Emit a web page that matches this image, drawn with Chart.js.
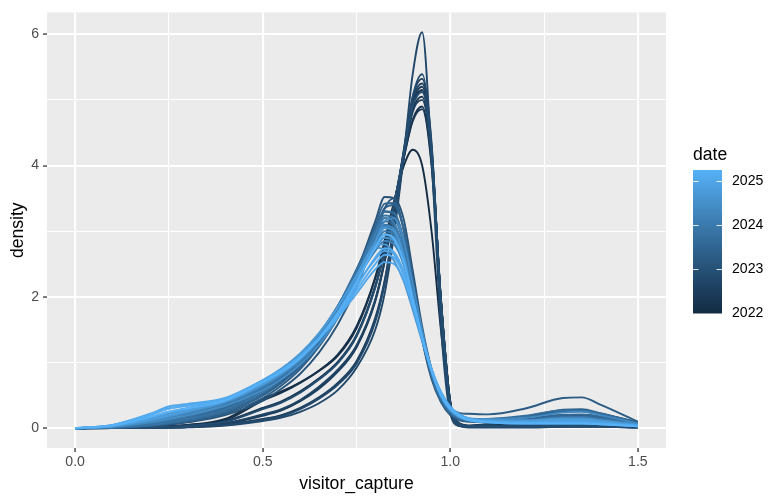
<!DOCTYPE html>
<html><head><meta charset="utf-8">
<script src="https://cdn.jsdelivr.net/npm/chart.js@4.4.0/dist/chart.umd.min.js"></script>
<style>html,body{margin:0;padding:0;background:#fff;}#wrap{width:782px;height:503px;position:relative;}</style>
</head><body><div id="wrap"><canvas id="c" width="782" height="503"></canvas></div>
<script>
// x positions (visitor_capture) at which each density curve was read
const xGrid = [0, 0.1, 0.2, 0.25, 0.3, 0.4, 0.5, 0.55, 0.6, 0.65, 0.7, 0.75, 0.8, 0.825, 0.85, 0.875, 0.9, 0.925, 0.95, 0.975, 1.0, 1.025, 1.05, 1.1, 1.2, 1.3, 1.35, 1.4, 1.5];

const dates2022 = [2022.000, 2022.083, 2022.167, 2022.250, 2022.333, 2022.417, 2022.500, 2022.583, 2022.667, 2022.750, 2022.833, 2022.917];
const density2022 = [
  [0, 0.004, 0.02, 0.035, 0.05, 0.14, 0.45, 0.56, 0.7, 0.88, 1.12, 1.55, 2.3, 2.85, 3.45, 3.98, 4.24, 4.0, 3.0, 1.5, 0.35, 0.07, 0.04, 0.06, 0.1, 0.14, 0.15, 0.13, 0.06],
  [0, 0.003, 0.012, 0.022, 0.035, 0.1, 0.3, 0.4, 0.55, 0.75, 1.0, 1.4, 2.15, 2.7, 3.4, 4.15, 4.85, 5.05, 4.15, 1.95, 0.38, 0.06, 0.03, 0.03, 0.04, 0.05, 0.05, 0.04, 0.02],
  [0, 0.004, 0.018, 0.032, 0.05, 0.12, 0.42, 0.54, 0.69, 0.87, 1.1, 1.52, 2.28, 2.82, 3.42, 4.08, 4.7, 4.9, 4.05, 1.95, 0.4, 0.07, 0.03, 0.03, 0.04, 0.05, 0.05, 0.05, 0.02],
  [0, 0.002, 0.008, 0.015, 0.025, 0.07, 0.2, 0.28, 0.42, 0.62, 0.88, 1.25, 1.95, 2.55, 3.3, 4.15, 4.92, 5.15, 4.2, 1.92, 0.35, 0.06, 0.03, 0.04, 0.06, 0.09, 0.1, 0.09, 0.04],
  [0, 0.003, 0.013, 0.024, 0.04, 0.11, 0.31, 0.41, 0.56, 0.76, 1.01, 1.42, 2.17, 2.72, 3.4, 4.1, 4.68, 4.86, 4.0, 1.95, 0.4, 0.07, 0.03, 0.03, 0.03, 0.04, 0.04, 0.04, 0.02],
  [0, 0.001, 0.005, 0.01, 0.017, 0.05, 0.13, 0.19, 0.3, 0.46, 0.67, 1.0, 1.65, 2.22, 3.08, 4.1, 4.95, 5.2, 4.25, 1.95, 0.36, 0.06, 0.03, 0.05, 0.08, 0.12, 0.13, 0.11, 0.05],
  [0, 0.002, 0.008, 0.014, 0.024, 0.07, 0.19, 0.27, 0.41, 0.6, 0.86, 1.23, 1.93, 2.53, 3.3, 4.2, 5.05, 5.32, 4.3, 1.9, 0.33, 0.05, 0.02, 0.02, 0.02, 0.03, 0.03, 0.03, 0.01],
  [0, 0.001, 0.006, 0.011, 0.019, 0.055, 0.14, 0.2, 0.31, 0.47, 0.69, 1.02, 1.68, 2.25, 3.1, 4.08, 4.82, 5.0, 4.12, 1.98, 0.4, 0.07, 0.04, 0.04, 0.05, 0.07, 0.07, 0.06, 0.03],
  [0, 0.002, 0.009, 0.016, 0.027, 0.075, 0.21, 0.29, 0.43, 0.63, 0.89, 1.26, 1.96, 2.56, 3.32, 4.18, 5.0, 5.25, 4.25, 1.9, 0.34, 0.05, 0.03, 0.06, 0.12, 0.18, 0.2, 0.17, 0.08],
  [0, 0.001, 0.004, 0.008, 0.013, 0.04, 0.11, 0.16, 0.25, 0.38, 0.58, 0.92, 1.5, 2.05, 2.95, 4.1, 5.4, 6.03, 4.1, 1.55, 0.22, 0.03, 0.01, 0.01, 0.01, 0.02, 0.02, 0.02, 0.01],
  [0, 0.001, 0.005, 0.01, 0.016, 0.048, 0.125, 0.18, 0.29, 0.45, 0.66, 0.98, 1.62, 2.2, 3.06, 4.12, 5.05, 5.39, 4.35, 1.85, 0.3, 0.04, 0.02, 0.02, 0.02, 0.02, 0.02, 0.02, 0.01],
  [0, 0.003, 0.012, 0.023, 0.037, 0.1, 0.29, 0.39, 0.54, 0.74, 0.99, 1.4, 2.14, 2.7, 3.4, 4.16, 4.9, 5.12, 4.2, 1.95, 0.36, 0.06, 0.03, 0.03, 0.03, 0.04, 0.04, 0.04, 0.02]
];

const dates2023 = [2023.000, 2023.083, 2023.167, 2023.250, 2023.333, 2023.417, 2023.500, 2023.583, 2023.667, 2023.750, 2023.833, 2023.917];
const density2023 = [
  [0, 0.008, 0.04, 0.07, 0.11, 0.24, 0.5, 0.7, 0.95, 1.3, 1.75, 2.38, 3.15, 3.52, 3.5, 3.05, 2.2, 1.35, 0.75, 0.4, 0.2, 0.12, 0.1, 0.1, 0.12, 0.18, 0.18, 0.15, 0.06],
  [0, 0.006, 0.03, 0.055, 0.09, 0.2, 0.42, 0.6, 0.83, 1.15, 1.58, 2.15, 2.9, 3.35, 3.5, 3.2, 2.4, 1.55, 0.9, 0.48, 0.26, 0.16, 0.13, 0.13, 0.17, 0.26, 0.27, 0.22, 0.09],
  [0, 0.01, 0.05, 0.09, 0.14, 0.3, 0.58, 0.78, 1.03, 1.37, 1.82, 2.4, 3.05, 3.3, 3.25, 2.85, 2.1, 1.38, 0.8, 0.43, 0.23, 0.15, 0.12, 0.11, 0.14, 0.2, 0.2, 0.17, 0.07],
  [0, 0.01, 0.05, 0.08, 0.13, 0.28, 0.52, 0.72, 0.96, 1.28, 1.7, 2.25, 2.85, 3.08, 3.05, 2.7, 2.05, 1.4, 0.85, 0.5, 0.3, 0.23, 0.22, 0.21, 0.3, 0.46, 0.47, 0.36, 0.1],
  [0, 0.007, 0.035, 0.065, 0.1, 0.22, 0.46, 0.65, 0.9, 1.24, 1.68, 2.28, 3.0, 3.35, 3.4, 3.05, 2.3, 1.45, 0.82, 0.44, 0.23, 0.14, 0.11, 0.1, 0.13, 0.19, 0.2, 0.17, 0.07],
  [0, 0.012, 0.06, 0.1, 0.15, 0.31, 0.6, 0.8, 1.05, 1.4, 1.85, 2.42, 3.0, 3.2, 3.12, 2.72, 2.02, 1.35, 0.8, 0.44, 0.24, 0.15, 0.13, 0.13, 0.18, 0.28, 0.29, 0.23, 0.09],
  [0, 0.008, 0.04, 0.075, 0.12, 0.25, 0.5, 0.69, 0.93, 1.27, 1.72, 2.33, 3.08, 3.42, 3.43, 3.05, 2.25, 1.42, 0.8, 0.42, 0.22, 0.13, 0.1, 0.09, 0.11, 0.16, 0.16, 0.14, 0.06],
  [0, 0.012, 0.06, 0.1, 0.16, 0.33, 0.62, 0.82, 1.07, 1.41, 1.85, 2.4, 2.95, 3.15, 3.08, 2.7, 2.02, 1.37, 0.83, 0.46, 0.25, 0.16, 0.12, 0.11, 0.13, 0.2, 0.21, 0.18, 0.07],
  [0, 0.009, 0.045, 0.08, 0.12, 0.26, 0.53, 0.73, 0.98, 1.32, 1.78, 2.37, 3.02, 3.3, 3.28, 2.9, 2.15, 1.4, 0.8, 0.43, 0.23, 0.15, 0.13, 0.14, 0.19, 0.27, 0.27, 0.22, 0.08],
  [0, 0.013, 0.065, 0.11, 0.17, 0.34, 0.63, 0.83, 1.08, 1.42, 1.86, 2.38, 2.9, 3.05, 2.98, 2.62, 1.98, 1.36, 0.83, 0.47, 0.26, 0.16, 0.12, 0.1, 0.11, 0.15, 0.15, 0.13, 0.05],
  [0, 0.01, 0.05, 0.09, 0.14, 0.29, 0.56, 0.76, 1.01, 1.35, 1.8, 2.38, 3.0, 3.24, 3.2, 2.82, 2.1, 1.4, 0.82, 0.45, 0.24, 0.15, 0.12, 0.1, 0.12, 0.17, 0.17, 0.15, 0.06],
  [0, 0.014, 0.07, 0.12, 0.18, 0.35, 0.64, 0.84, 1.09, 1.43, 1.86, 2.38, 2.92, 3.1, 3.02, 2.66, 2.0, 1.38, 0.84, 0.48, 0.27, 0.17, 0.13, 0.11, 0.12, 0.16, 0.17, 0.14, 0.06]
];

const dates2024 = [2024.000, 2024.083, 2024.167, 2024.250, 2024.333, 2024.417, 2024.500, 2024.583, 2024.667, 2024.750, 2024.833, 2024.917];
const density2024 = [
  [0, 0.03, 0.12, 0.18, 0.25, 0.4, 0.66, 0.83, 1.05, 1.35, 1.75, 2.25, 2.8, 3.0, 2.95, 2.6, 2.0, 1.4, 0.88, 0.5, 0.28, 0.17, 0.13, 0.11, 0.1, 0.12, 0.12, 0.1, 0.05],
  [0, 0.025, 0.1, 0.16, 0.22, 0.37, 0.62, 0.8, 1.02, 1.33, 1.75, 2.3, 2.95, 3.2, 3.12, 2.72, 2.05, 1.4, 0.86, 0.48, 0.27, 0.16, 0.12, 0.1, 0.1, 0.13, 0.13, 0.11, 0.05],
  [0, 0.035, 0.14, 0.21, 0.28, 0.43, 0.7, 0.87, 1.09, 1.39, 1.78, 2.25, 2.7, 2.85, 2.8, 2.5, 1.95, 1.38, 0.88, 0.51, 0.3, 0.19, 0.14, 0.12, 0.11, 0.14, 0.14, 0.12, 0.05],
  [0, 0.028, 0.11, 0.17, 0.24, 0.39, 0.65, 0.82, 1.04, 1.34, 1.74, 2.26, 2.86, 3.08, 3.04, 2.66, 2.02, 1.4, 0.87, 0.49, 0.27, 0.16, 0.12, 0.1, 0.09, 0.11, 0.11, 0.09, 0.04],
  [0, 0.032, 0.13, 0.19, 0.26, 0.41, 0.68, 0.85, 1.07, 1.37, 1.77, 2.26, 2.77, 2.95, 2.9, 2.56, 1.98, 1.39, 0.88, 0.5, 0.29, 0.18, 0.15, 0.14, 0.16, 0.24, 0.25, 0.2, 0.07],
  [0, 0.022, 0.09, 0.14, 0.2, 0.34, 0.58, 0.75, 0.97, 1.27, 1.68, 2.2, 2.85, 3.15, 3.2, 2.88, 2.2, 1.5, 0.9, 0.5, 0.28, 0.17, 0.13, 0.11, 0.1, 0.12, 0.12, 0.1, 0.05],
  [0, 0.034, 0.14, 0.2, 0.27, 0.42, 0.69, 0.86, 1.08, 1.38, 1.77, 2.25, 2.74, 2.9, 2.85, 2.52, 1.96, 1.38, 0.88, 0.5, 0.29, 0.18, 0.13, 0.11, 0.1, 0.11, 0.11, 0.09, 0.04],
  [0, 0.038, 0.15, 0.22, 0.29, 0.45, 0.73, 0.91, 1.14, 1.45, 1.85, 2.32, 2.75, 2.72, 2.55, 2.25, 1.8, 1.32, 0.87, 0.52, 0.31, 0.2, 0.15, 0.13, 0.12, 0.15, 0.15, 0.12, 0.05],
  [0, 0.03, 0.12, 0.18, 0.25, 0.4, 0.66, 0.83, 1.05, 1.35, 1.74, 2.25, 2.83, 3.05, 3.0, 2.64, 2.0, 1.39, 0.87, 0.49, 0.28, 0.17, 0.13, 0.11, 0.11, 0.14, 0.14, 0.12, 0.05],
  [0, 0.036, 0.15, 0.22, 0.29, 0.45, 0.73, 0.9, 1.13, 1.44, 1.84, 2.32, 2.78, 2.8, 2.66, 2.36, 1.88, 1.36, 0.88, 0.52, 0.3, 0.19, 0.14, 0.12, 0.1, 0.12, 0.12, 0.1, 0.04],
  [0, 0.03, 0.13, 0.2, 0.27, 0.42, 0.68, 0.85, 1.07, 1.37, 1.76, 2.25, 2.77, 2.95, 2.9, 2.56, 1.97, 1.38, 0.87, 0.5, 0.29, 0.18, 0.13, 0.11, 0.1, 0.12, 0.12, 0.1, 0.04],
  [0, 0.04, 0.17, 0.25, 0.31, 0.44, 0.7, 0.87, 1.09, 1.38, 1.75, 2.18, 2.57, 2.7, 2.65, 2.38, 1.88, 1.36, 0.89, 0.53, 0.31, 0.2, 0.14, 0.11, 0.09, 0.1, 0.1, 0.08, 0.04]
];

const dates2025 = [2025.000, 2025.083, 2025.167, 2025.250];
const density2025 = [
  [0, 0.05, 0.22, 0.33, 0.37, 0.46, 0.73, 0.89, 1.09, 1.35, 1.68, 2.05, 2.42, 2.53, 2.5, 2.27, 1.85, 1.36, 0.91, 0.56, 0.33, 0.21, 0.15, 0.1, 0.08, 0.08, 0.08, 0.07, 0.03],
  [0, 0.045, 0.2, 0.3, 0.35, 0.45, 0.72, 0.88, 1.09, 1.37, 1.72, 2.15, 2.6, 2.74, 2.68, 2.4, 1.9, 1.37, 0.89, 0.53, 0.31, 0.19, 0.13, 0.09, 0.07, 0.07, 0.07, 0.06, 0.03],
  [0, 0.05, 0.21, 0.3, 0.34, 0.44, 0.71, 0.87, 1.08, 1.36, 1.7, 2.1, 2.5, 2.64, 2.6, 2.34, 1.88, 1.37, 0.9, 0.54, 0.32, 0.2, 0.14, 0.1, 0.08, 0.08, 0.08, 0.07, 0.03],
  [0, 0.04, 0.17, 0.25, 0.3, 0.42, 0.7, 0.86, 1.07, 1.37, 1.75, 2.22, 2.75, 2.95, 2.88, 2.55, 1.97, 1.39, 0.88, 0.5, 0.29, 0.18, 0.12, 0.09, 0.07, 0.07, 0.07, 0.06, 0.03]
];

const xTickLabels = [0, 0.5, 1.0, 1.5];
const xMinorTicks = [0.25, 0.75, 1.25];
const yTickLabels = [0, 2, 4, 6];
const yMinorTicks = [1, 3, 5];
const legendYears = [2022, 2023, 2024, 2025];
const dateMin = 2022.0, dateMax = 2025.25;
const lowColor = '#132B43', highColor = '#56B1F7';

// ---- Lab colour interpolation (ggplot2 gradient) ----
function hexToRgb(h){return [1,3,5].map(i=>parseInt(h.substr(i,2),16));}
function s2l(c){c/=255;return c<=0.04045?c/12.92:Math.pow((c+0.055)/1.055,2.4);}
function l2s(c){const v=c<=0.0031308?12.92*c:1.055*Math.pow(c,1/2.4)-0.055;return Math.round(Math.max(0,Math.min(1,v))*255);}
function rgbToLab(rgb){const [r,g,b]=rgb.map(s2l);
  const X=(0.4124564*r+0.3575761*g+0.1804375*b)/0.95047,Y=(0.2126729*r+0.7151522*g+0.0721750*b),Z=(0.0193339*r+0.1191920*g+0.9503041*b)/1.08883;
  const f=t=>t>0.008856?Math.cbrt(t):(7.787*t+16/116);const fx=f(X),fy=f(Y),fz=f(Z);
  return [116*fy-16,500*(fx-fy),200*(fy-fz)];}
function labToRgb(lab){const [L,a,b]=lab;const fy=(L+16)/116,fx=fy+a/500,fz=fy-b/200;
  const fi=t=>{const t3=t*t*t;return t3>0.008856?t3:(t-16/116)/7.787;};
  const X=fi(fx)*0.95047,Y=fi(fy),Z=fi(fz)*1.08883;
  return [l2s(3.2404542*X-1.5371385*Y-0.4985314*Z),l2s(-0.9692660*X+1.8760108*Y+0.0415560*Z),l2s(0.0556434*X-0.2040259*Y+1.0572252*Z)];}
const labLow=rgbToLab(hexToRgb(lowColor)), labHigh=rgbToLab(hexToRgb(highColor));
function colorAt(t){t=Math.max(0,Math.min(1,t));const c=labToRgb(labLow.map((v,i)=>v+(labHigh[i]-v)*t));return `rgb(${c[0]},${c[1]},${c[2]})`;}
function colorFor(d){return colorAt((d-dateMin)/(dateMax-dateMin));}

// ---- build datasets ----
const groups=[[dates2022,density2022],[dates2023,density2023],[dates2024,density2024],[dates2025,density2025]];
const curves=[];
groups.forEach(([ds,dens])=>ds.forEach((d,i)=>curves.push({date:d,values:dens[i]})));
const datasets=curves.map((c,idx)=>({
  data:xGrid.map((x,i)=>({x:x,y:c.values[i]})),
  borderColor:colorFor(c.date),
  borderWidth:1.9,
  pointRadius:0,
  fill:false,
  cubicInterpolationMode:'monotone',
  order:curves.length-idx
}));

const FONT='"Liberation Sans", Arial, Helvetica, sans-serif';

const decor={
  id:'decor',
  beforeDraw(chart){
    const {ctx,chartArea:a}=chart;
    ctx.save();ctx.fillStyle='#EBEBEB';ctx.fillRect(a.left,a.top,a.right-a.left,a.bottom-a.top);ctx.restore();
  },
  afterDraw(chart){
    const {ctx,chartArea:a}=chart;
    ctx.save();
    ctx.fillStyle='#000';
    ctx.font='17.6px '+FONT;
    ctx.textAlign='center';ctx.textBaseline='middle';
    ctx.fillText('visitor_capture',(a.left+a.right)/2,484);
    ctx.save();ctx.translate(18,(a.top+a.bottom)/2);ctx.rotate(-Math.PI/2);ctx.fillText('density',0,0);ctx.restore();
    // legend
    const bx=693,bw=29,btop=170,bbot=313.5;
    ctx.textAlign='left';ctx.textBaseline='alphabetic';
    ctx.fillText('date',bx,160);
    const g=ctx.createLinearGradient(0,bbot,0,btop);
    for(let i=0;i<=40;i++){g.addColorStop(i/40,colorAt(i/40));}
    ctx.fillStyle=g;ctx.fillRect(bx,btop,bw,bbot-btop);
    const yOf=yr=>bbot-(yr-dateMin)/(dateMax-dateMin)*(bbot-btop);
    ctx.strokeStyle='rgba(255,255,255,0.85)';ctx.lineWidth=1;
    ctx.font='14.1px '+FONT;ctx.textBaseline='middle';ctx.fillStyle='#000';
    legendYears.forEach(yr=>{
      const y=Math.round(yOf(yr))+0.5;
      ctx.beginPath();ctx.moveTo(bx,y);ctx.lineTo(bx+5.5,y);ctx.moveTo(bx+bw-5.5,y);ctx.lineTo(bx+bw,y);ctx.stroke();
      ctx.fillText(String(yr),bx+bw+10,yOf(yr));
    });
    ctx.restore();
  }
};

const isIn=(arr,v)=>arr.some(t=>Math.abs(t-v)<1e-9);

new Chart(document.getElementById('c'),{
  type:'line',
  data:{datasets:datasets},
  plugins:[decor],
  options:{
    responsive:false,animation:false,devicePixelRatio:1,
    layout:{padding:{left:0,top:9,right:116,bottom:0}},
    plugins:{legend:{display:false},tooltip:{enabled:false}},
    scales:{
      x:{type:'linear',min:-0.075,max:1.575,
        afterBuildTicks:s=>{s.ticks=[...xTickLabels,...xMinorTicks].sort((a,b)=>a-b).map(v=>({value:v}));},
        afterFit:s=>{s.height=55;},
        border:{display:false},
        grid:{color:'#FFFFFF',
          lineWidth:c=>isIn(xTickLabels,c.tick.value)?2.1:1.05,
          drawTicks:true,tickLength:4,
          tickColor:c=>isIn(xTickLabels,c.tick.value)?'#333333':'rgba(0,0,0,0)',
          tickWidth:1.3},
        ticks:{autoSkip:false,maxRotation:0,padding:2,color:'#4D4D4D',font:{family:FONT,size:14.1},
          callback:v=>isIn(xTickLabels,v)?Number(v).toFixed(1):''}
      },
      y:{type:'linear',min:-0.3015,max:6.3315,
        afterBuildTicks:s=>{s.ticks=[...yTickLabels,...yMinorTicks].sort((a,b)=>a-b).map(v=>({value:v}));},
        afterFit:s=>{s.width=47;},
        border:{display:false},
        grid:{color:'#FFFFFF',
          lineWidth:c=>isIn(yTickLabels,c.tick.value)?2.1:1.05,
          drawTicks:true,tickLength:4,
          tickColor:c=>isIn(yTickLabels,c.tick.value)?'#333333':'rgba(0,0,0,0)',
          tickWidth:1.3},
        ticks:{autoSkip:false,padding:4,color:'#4D4D4D',font:{family:FONT,size:14.1},
          callback:v=>isIn(yTickLabels,v)?String(v):''}
      }
    }
  }
});
</script></body></html>
